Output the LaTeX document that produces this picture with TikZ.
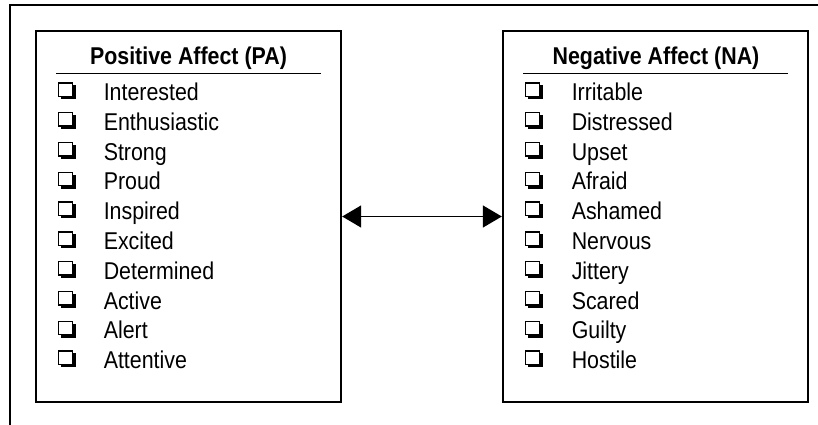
\documentclass[tikz,border=0pt]{standalone}
\usepackage{fontspec}
\setmainfont{Liberation Sans}[FakeStretch=0.88]
\usetikzlibrary{arrows.meta}

\tikzset{
  chkbox/.pic={
    \fill (2.8,-1.4) rectangle (17.6,-15.4);
    \filldraw[fill=white, line width=1.4pt] (0.7,-4.2) rectangle (14.6,-17.6);
  }
}

\begin{document}
\begin{tikzpicture}[x=1pt, y=-1pt, line width=1.5pt,
  every node/.style={font=\fontsize{24.3}{29}\selectfont, inner sep=0pt},
  panel/.style={draw, line width=2.4pt, minimum width=305pt, minimum height=371pt},
  heading/.style={font=\fontsize{24.3}{29}\selectfont\bfseries, anchor=base},
  item/.style={anchor=base west},
  link/.style={{Triangle[length=19pt,width=22pt]}-{Triangle[length=19pt,width=22pt]}, line width=1.5pt}]
  \useasboundingbox (0,0) rectangle (818,425);
  % frame round the figure
  \draw[line width=1.8pt] (818,5) -- (10,5) -- (10,425);

  % the two scales
  \node[panel] (pa) at (188.5,216.5) {};
  \node[panel] (na) at (655.5,216.5) {};
  \node[heading] (patitle) at (188.5,64.5) {Positive Affect (PA)};
  \node[heading] (natitle) at (656,64.5) {Negative Affect (NA)};
  \draw (56,73.5) -- (321,73.5);
  \draw (523,73.5) -- (788,73.5);

  \foreach \w [count=\i] in {Interested, Enthusiastic, Strong, Proud, Inspired,
      Excited, Determined, Active, Alert, Attentive} {
    \pic at (58,{100.5+29.8*(\i-1)}) {chkbox};
    \node[item] (pa\i) at (103,{100.5+29.8*(\i-1)}) {\w};
  }
  \foreach \w [count=\i] in {Irritable, Distressed, Upset, Afraid, Ashamed,
      Nervous, Jittery, Scared, Guilty, Hostile} {
    \pic at (525,{100.5+29.8*(\i-1)}) {chkbox};
    \node[item] (na\i) at (571,{100.5+29.8*(\i-1)}) {\w};
  }

  \draw[link] (pa.east) -- (na.west);
\end{tikzpicture}
\end{document}
